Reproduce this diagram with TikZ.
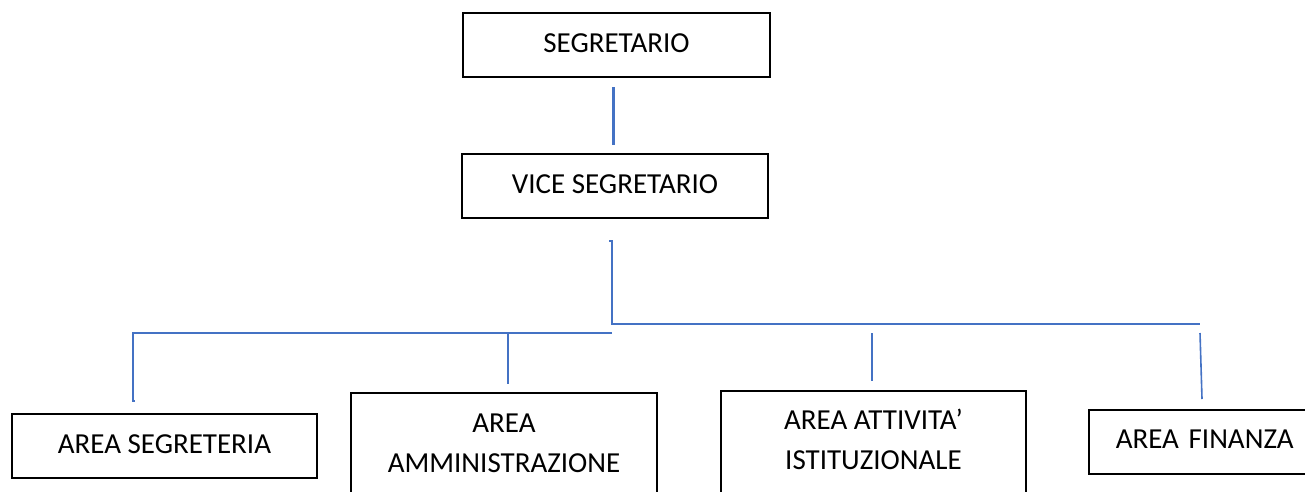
\documentclass[tikz,border=0pt]{standalone}
\usepackage{fontspec}
\setmainfont{Carlito}
\usepackage{tikz}
\definecolor{linkblue}{RGB}{68,114,196}

\begin{document}
\begin{tikzpicture}[x=1pt,y=-1pt,
  ufficio/.style={draw, line width=1.6pt, anchor=north, align=center,
    inner xsep=0pt, inner ysep=0pt, text height=40pt, text depth=24pt,
    font=\fontsize{29}{40.5}\selectfont},
  filo/.style={linkblue, line width=1.6pt}]
  \useasboundingbox (0,0) rectangle (1305,491);

  % vertici
  \node[ufficio, minimum width=307] (seg) at (616.5,12) {SEGRETARIO};
  \node[ufficio, minimum width=306] (vice) at (615,153) {VICE SEGRETARIO};

  % aree (le due centrali escono dal foglio in basso)
  \node[ufficio, minimum width=305] (segreteria) at (164.5,413) {AREA SEGRETERIA};
  \node[ufficio, minimum width=306, text height=80pt, text depth=80pt] (amm) at (504,392) {AREA\\AMMINISTRAZIONE};
  \node[ufficio, minimum width=305, text height=79pt, text depth=80pt] (att) at (873.5,390) {AREA ATTIVITA'\\ISTITUZIONALE};
  % finanza esce a destra
  \node[ufficio, anchor=north west, inner xsep=27pt, text width=300pt, align=left,
    text height=39pt, text depth=25pt] (fin) at (1088,409) {AREA FINANZA};

  % punti liberi dei collegamenti
  \coordinate (s1) at (613,87);
  \coordinate (s2) at (613,145);
  \coordinate (v0) at (609,241);
  \coordinate (v1) at (612,241);
  \coordinate (vbend) at (612,324);
  \coordinate (rbus) at (1200,324);
  \coordinate (lbus) at (612,333);
  \coordinate (lbend) at (133,333);
  \coordinate (segdrop) at (133,401);
  \coordinate (segtick) at (135,401);
  \coordinate (ammtop) at (508,333);
  \coordinate (ammdrop) at (508,384);
  \coordinate (atttop) at (872,333);
  \coordinate (attdrop) at (872,381);
  \coordinate (fintop) at (1200,333);
  \coordinate (findrop) at (1202,399);

  \draw[filo, line width=3pt] (s1) -- (s2);
  \draw[filo, line width=2.4pt] (v0) -- (v1) -- (vbend) -- (rbus);
  \draw[filo] (lbus) -- (lbend) -- (segdrop) -- (segtick);
  \draw[filo] (ammtop) -- (ammdrop);
  \draw[filo, line width=2pt] (atttop) -- (attdrop);
  \draw[filo] (fintop) -- (findrop);
\end{tikzpicture}
\end{document}
